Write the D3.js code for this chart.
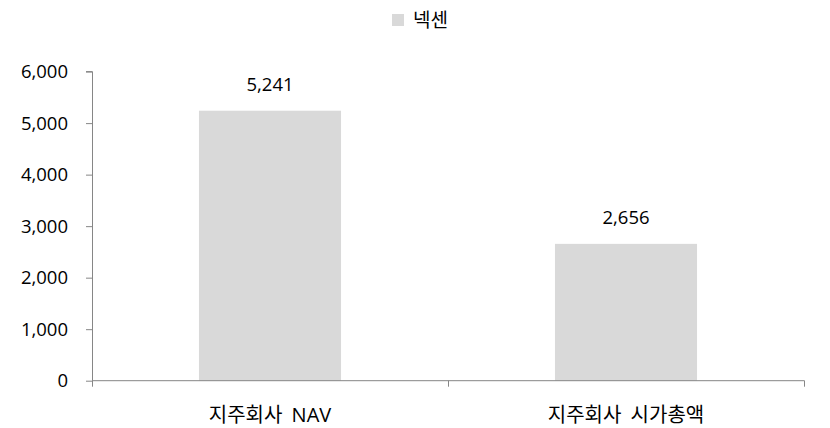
<!DOCTYPE html>
<html><head><meta charset="utf-8">
<script src="https://cdn.jsdelivr.net/npm/d3@7"></script>
<style>body{margin:0;background:#fff}text{font-family:"Open Sans","Noto Sans CJK KR",sans-serif;fill:#000}</style>
</head><body><svg id="c" width="830" height="428"></svg>
<script>
const categories = ["지주회사 NAV", "지주회사 시가총액"];
const values = [5241, 2656];
const seriesName = "넥센";
const yTicks = [0, 1000, 2000, 3000, 4000, 5000, 6000];

const svg = d3.select("#c");
const m = {l: 92, r: 26, t: 71.6, b: 47.3};
const W = 830, H = 428;
const x = d3.scaleBand().domain(categories).range([m.l, W - m.r]).paddingInner(0.601).paddingOuter(0.3005);
const y = d3.scaleLinear().domain([0, 6000]).range([H - m.b, m.t]);
const barColor = "#d9d9d9";
const axisColor = "#868686";

// bars
svg.selectAll("rect.bar").data(values).join("rect").attr("class", "bar")
  .attr("x", (d, i) => x(categories[i])).attr("width", x.bandwidth())
  .attr("y", d => y(d)).attr("height", d => y(0) - y(d)).attr("fill", barColor);

// y axis
const ya = svg.append("g").attr("transform", `translate(${m.l},0)`)
  .call(d3.axisLeft(y).tickValues(yTicks).tickFormat(d3.format(",")).tickSize(6).tickPadding(18));
ya.select(".domain").attr("stroke", axisColor).attr("d", `M-6,${y(6000)}H0.5V${y(0)}`);
ya.selectAll(".tick line").attr("stroke", axisColor);
ya.selectAll(".tick text").style("font-size", "18.5px").attr("fill", "#000");

// x axis
const xa = svg.append("g").attr("transform", `translate(0,${y(0)})`);
xa.append("line").attr("x1", m.l).attr("x2", W - m.r + 0.5).attr("stroke", axisColor);
const bounds = [m.l, m.l + x.step(), W - m.r];
xa.selectAll("line.t").data(bounds).join("line").attr("class", "t")
  .attr("x1", d => Math.round(d) + 0.5).attr("x2", d => Math.round(d) + 0.5).attr("y1", 0).attr("y2", 6).attr("stroke", axisColor);
xa.selectAll("text").data(categories).join("text")
  .attr("x", d => x(d) + x.bandwidth() / 2).attr("y", 41).attr("text-anchor", "middle")
  .style("font-size", "20px").style("word-spacing", "4px").text(d => d);

// value labels
svg.selectAll("text.val").data(values).join("text").attr("class", "val")
  .attr("x", (d, i) => x(categories[i]) + x.bandwidth() / 2).attr("y", d => y(d) - 20)
  .attr("text-anchor", "middle").style("font-size", "18.5px").text(d3.format(","));

// legend
const lg = svg.append("g").attr("transform", "translate(392,14)");
lg.append("rect").attr("width", 12).attr("height", 12).attr("fill", barColor);
lg.append("text").attr("x", 21).attr("y", 13).style("font-size", "19px").text(seriesName);
</script></body></html>
